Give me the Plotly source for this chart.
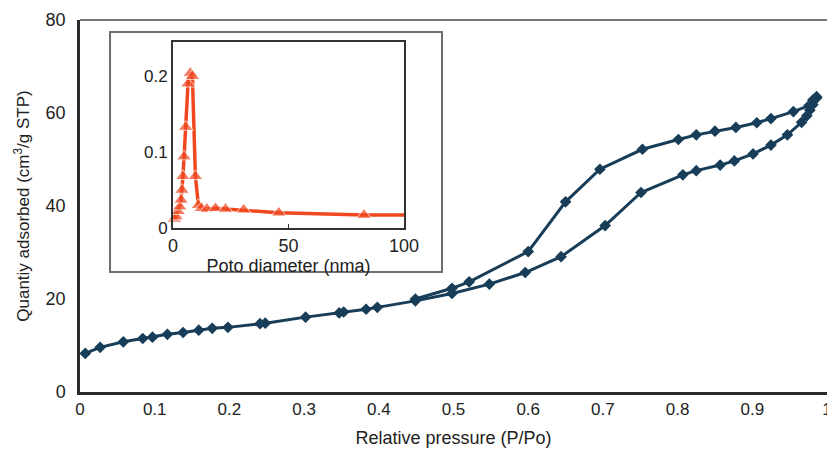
import plotly.graph_objects as go

# Main isotherm data (Relative pressure P/Po vs quantity adsorbed)
ads_p = [0.007, 0.027, 0.058, 0.084, 0.097, 0.117, 0.138, 0.159, 0.177, 0.198,
         0.241, 0.248, 0.302, 0.347, 0.353, 0.383, 0.398, 0.449, 0.498, 0.548,
         0.596, 0.644, 0.703, 0.751, 0.807, 0.825, 0.857, 0.876, 0.901, 0.925,
         0.947, 0.966, 0.973, 0.977, 0.981, 0.986]
ads_q = [8.3, 9.6, 10.8, 11.5, 11.8, 12.4, 12.8, 13.3, 13.7, 13.9,
         14.7, 14.8, 16.1, 17.0, 17.2, 17.8, 18.2, 19.6, 21.2, 23.2,
         25.7, 29.1, 35.8, 42.9, 46.7, 47.6, 48.8, 49.7, 51.2, 53.1,
         55.3, 58.0, 59.4, 60.6, 61.8, 63.2]

des_p = [0.986, 0.981, 0.976, 0.955, 0.925, 0.906, 0.878, 0.850, 0.825, 0.801,
         0.753, 0.696, 0.650, 0.600, 0.521, 0.498, 0.449]
des_q = [63.5, 62.8, 61.6, 60.3, 58.8, 57.9, 56.9, 56.1, 55.3, 54.3,
         52.2, 47.9, 40.9, 30.2, 23.7, 22.3, 20.0]

# Inset: pore size distribution
pore_d = [0.6, 1.4, 2.2, 2.9, 3.5, 3.9, 4.3, 4.8, 5.5, 6.5, 7.5, 8.4,
          9.7, 11.0, 12.3, 14.7, 18.4, 22.7, 30.6, 45.8, 82.7, 100.0]
pore_v = [0.012, 0.015, 0.022, 0.028, 0.037, 0.050, 0.068, 0.094, 0.133, 0.190, 0.204, 0.200,
          0.068, 0.030, 0.026, 0.025, 0.026, 0.025, 0.024, 0.020, 0.017, 0.017]
pore_marker_size = [13] * (len(pore_d) - 1) + [0]

x_ticks = [0, 0.1, 0.2, 0.3, 0.4, 0.5, 0.6, 0.7, 0.8, 0.9, 1]
x_tick_labels = ["0", "0.1", "0.2", "0.3", "0.4", "0.5", "0.6", "0.7", "0.8", "0.9", "1"]
y_ticks = [0, 20, 40, 60, 80]
inset_x_ticks = [0, 50, 100]
inset_y_ticks = [0, 0.1, 0.2]
inset_y_labels = ["0", "0.1", "0.2"]

navy = "#173d58"
red = "#f0471f"
font = "Liberation Sans, Arial, sans-serif"

fig = go.Figure()
for px, qy in [(ads_p, ads_q), (des_p, des_q)]:
    fig.add_trace(go.Scatter(
        x=px, y=qy, mode="lines+markers",
        line=dict(color=navy, width=3),
        marker=dict(symbol="diamond", size=9, color=navy),
        showlegend=False, cliponaxis=False,
    ))

fig.add_trace(go.Scatter(
    x=pore_d, y=pore_v, xaxis="x2", yaxis="y2", mode="lines+markers",
    line=dict(color=red, width=3.5),
    marker=dict(symbol="triangle-up", size=pore_marker_size, color=red),
    showlegend=False, cliponaxis=False,
))

# inset outer frame
fig.add_shape(type="rect", xref="paper", yref="paper",
              x0=0.0402, x1=0.4846, y0=0.3226, y1=0.968,
              line=dict(color="#6f6f6f", width=2), fillcolor="white", layer="below")
# top frame line of main plot
fig.add_shape(type="line", xref="paper", yref="paper",
              x0=0, x1=1.0, y0=1, y1=1,
              line=dict(color="#777777", width=2))

fig.update_layout(
    width=827, height=455,
    margin=dict(l=80, r=0, t=20, b=63, autoexpand=False),
    paper_bgcolor="white", plot_bgcolor="white",
    font=dict(family=font, size=17, color="#222222"),
    xaxis=dict(range=[0, 1], tickvals=x_ticks, ticktext=x_tick_labels,
               showgrid=False, zeroline=False, showline=True,
               linecolor="#2a2a2a", linewidth=2.5, ticks="",
               tickfont=dict(size=17), automargin=False, ticklabeloverflow="allow",
               title=dict(text="Relative pressure (P/Po)", font=dict(size=18), standoff=14)),
    yaxis=dict(range=[0, 80], tickvals=y_ticks, showgrid=False, zeroline=False,
               showline=True, linecolor="#2a2a2a", linewidth=2.5, ticks="",
               tickfont=dict(size=18), automargin=False, ticklabelstandoff=8,
               title=dict(text="Quantiy adsorbed (cm<sup>3</sup>/g STP)", font=dict(size=17), standoff=12)),
    xaxis2=dict(domain=[0.1245, 0.4337], anchor="y2", range=[0, 100],
                tickvals=inset_x_ticks, showgrid=False, zeroline=False,
                showline=True, mirror=True, linecolor="#333333", linewidth=2,
                ticks="inside", ticklen=4, tickcolor="#333333",
                tickfont=dict(size=18),
                title=dict(text="Poto diameter (nma)", font=dict(size=18), standoff=0)),
    yaxis2=dict(domain=[0.4409, 0.9409], anchor="x2", range=[0, 0.245],
                tickvals=inset_y_ticks, ticktext=inset_y_labels,
                showgrid=False, zeroline=False,
                showline=True, mirror=True, linecolor="#333333", linewidth=2,
                ticks="", tickfont=dict(size=17)),
)

fig.write_html("out.html", config={"displayModeBar": False},
               post_script="document.body.style.margin='0px';")
